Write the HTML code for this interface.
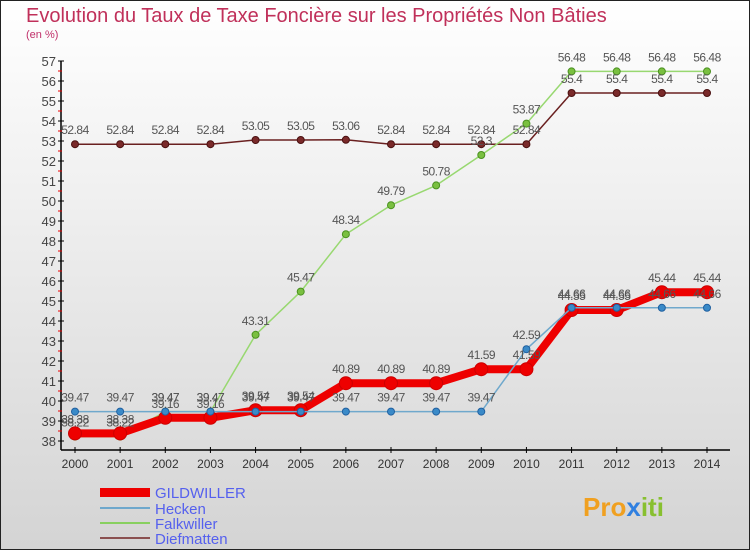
<!DOCTYPE html>
<html><head><meta charset="utf-8"><style>
body{margin:0;width:750px;height:550px;overflow:hidden;font-family:"Liberation Sans",sans-serif}
svg{display:block}
</style></head><body>
<svg width="750" height="550" viewBox="0 0 750 550">
<defs><linearGradient id="bg" x1="0" y1="0" x2="0" y2="1"><stop offset="0" stop-color="#ffffff"/><stop offset="1" stop-color="#d4d4d4"/></linearGradient></defs>
<rect x="0.5" y="0.5" width="749" height="549" fill="url(#bg)" stroke="#222"/>
<text x="26" y="22" font-size="20" fill="#c0305a">Evolution du Taux de Taxe Foncière sur les Propriétés Non Bâties</text>
<text x="26" y="38" font-size="11" fill="#c0306a">(en %)</text>
<g id="axes"></g><g id="series"></g><g id="labels"></g>
<g>
<rect x="100" y="488" width="50" height="9" fill="#e00"/>
<text x="155" y="498" font-size="15" fill="#5560ee">GILDWILLER</text>
<line x1="100" y1="508" x2="150" y2="508" stroke="#6fa8cc" stroke-width="2"/>
<text x="155" y="514" font-size="15" fill="#5560ee">Hecken</text>
<line x1="100" y1="523" x2="150" y2="523" stroke="#88d060" stroke-width="2"/>
<text x="155" y="529" font-size="15" fill="#5560ee">Falkwiller</text>
<line x1="100" y1="538" x2="150" y2="538" stroke="#8a5050" stroke-width="2"/>
<text x="155" y="544" font-size="15" fill="#5560ee">Diefmatten</text>
</g>
<text x="583" y="516" font-size="26" font-weight="bold"><tspan fill="#f0a020">Pro</tspan><tspan fill="#3080e0">x</tspan><tspan fill="#88c030">iti</tspan></text>
</svg>
<script>
const years=[2000,2001,2002,2003,2004,2005,2006,2007,2008,2009,2010,2011,2012,2013,2014];
const gildwiller=[38.38,38.38,39.16,39.16,39.54,39.54,40.89,40.89,40.89,41.59,41.59,44.55,44.55,45.44,45.44];
const hecken=[39.47,39.47,39.47,39.47,39.47,39.47,39.47,39.47,39.47,39.47,42.59,44.66,44.66,44.66,44.66];
const falkwiller=[38.22,38.22,39.47,39.47,43.31,45.47,48.34,49.79,50.78,52.3,53.87,56.48,56.48,56.48,56.48];
const diefmatten=[52.84,52.84,52.84,52.84,53.05,53.05,53.06,52.84,52.84,52.84,52.84,55.4,55.4,55.4,55.4];
const yTicks=[38,39,40,41,42,43,44,45,46,47,48,49,50,51,52,53,54,55,56,57];
const NS='http://www.w3.org/2000/svg';
const X=i=>75+i*(707-75)/(years.length-1);
const Y=v=>441-(v-38)*20;
function mk(t,a,p){const e=document.createElementNS(NS,t);for(const k in a)e.setAttribute(k,a[k]);p.appendChild(e);return e;}
const ax=document.getElementById('axes');
const yl=mk('line',{x1:61,y1:Y(57),x2:61,y2:450,stroke:'#000','stroke-width':1.5},ax);


const xl=mk('line',{x1:61,y1:450,x2:730,y2:450,stroke:'#000','stroke-width':1.5},ax);


yTicks.forEach(v=>{
 mk('line',{x1:58,y1:Y(v),x2:64,y2:Y(v),stroke:'#000'},ax);
 if(v<57)mk('line',{x1:58,y1:Y(v+0.5),x2:62,y2:Y(v+0.5),stroke:'#e00'},ax);
 const t=mk('text',{x:56,y:Y(v)+5,'font-size':13,fill:'#444','text-anchor':'end'},ax);t.textContent=v;
 
 
});
years.forEach((y,i)=>{
 mk('line',{x1:X(i),y1:447,x2:X(i),y2:453,stroke:'#000'},ax);
 const t=mk('text',{x:X(i),y:468,'font-size':12,fill:'#333','text-anchor':'middle'},ax);t.textContent=y;
 
 
});
const sg=document.getElementById('series'),lg=document.getElementById('labels');
function draw(name,data,color,w,r,dot,stroke){
 const p=mk('polyline',{points:data.map((v,i)=>X(i)+','+Y(v)).join(' '),fill:'none',stroke:color,'stroke-width':w,'stroke-linejoin':'round'},sg);
 
 
 data.forEach((v,i)=>{
  const c=mk('circle',{cx:X(i),cy:Y(v),r:r,fill:dot,stroke:stroke,'stroke-width':1},sg);
  
  
  const t=mk('text',{x:X(i),y:Y(v)-10,'font-size':12,fill:'#555','text-anchor':'middle','letter-spacing':'-0.5'},lg);
  t.textContent=v;
  
  
 });
}
draw('diefmatten',diefmatten,'#6a2020',1.5,3.5,'#7a2a2a','#4a1010');
draw('falkwiller',falkwiller,'#98d870',1.5,3.5,'#7ac040','#4a9020');
draw('gildwiller',gildwiller,'#ee0000',8,6.5,'#ee0000','#cc0000');
draw('hecken',hecken,'#6fa8cc',1.5,3.5,'#3a8ac8','#2060a0');
</script>
</body></html>
